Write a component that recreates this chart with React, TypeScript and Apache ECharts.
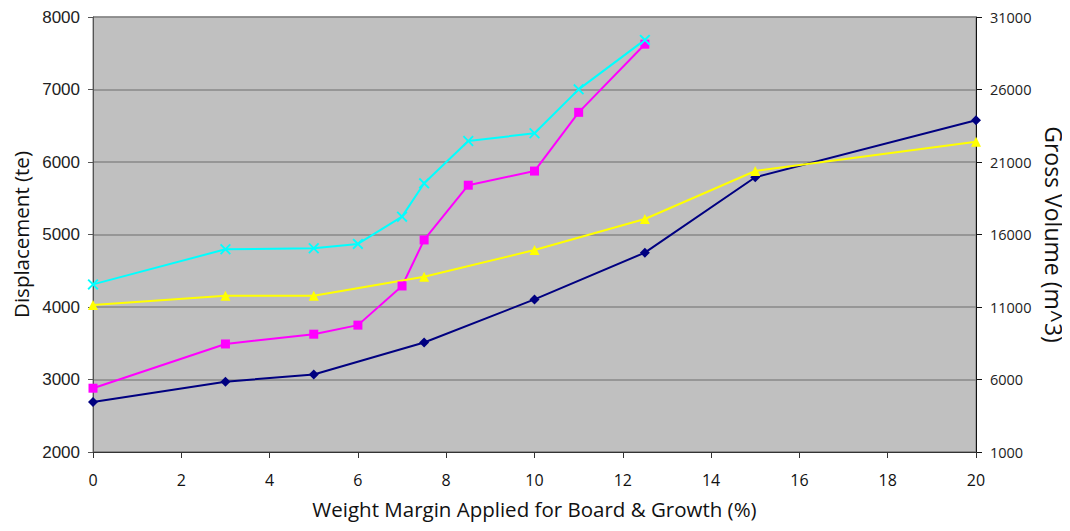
import React, { useEffect, useRef } from "react";
import * as echarts from "echarts";

// Weight margin (%) for each point
const marginNavy = [0, 3, 5, 7.5, 10, 12.5, 15, 20];
const displacementNavy = [2690, 2970, 3070, 3510, 4105, 4750, 5790, 6575];

const marginMagenta = [0, 3, 5, 6, 7, 7.5, 8.5, 10, 11, 12.5];
const displacementMagenta = [2880, 3490, 3625, 3750, 4290, 4925, 5680, 5875, 6685, 7625];

const marginYellow = [0, 3, 5, 7.5, 10, 12.5, 15, 20];
const volumeYellow = [11140, 11780, 11780, 13090, 14930, 17070, 20380, 22400];

const marginCyan = [0, 3, 5, 6, 7, 7.5, 8.5, 10, 11, 12.5];
const volumeCyan = [12560, 14980, 15050, 15350, 17230, 19530, 22450, 22980, 26010, 29420];

const rightTicks = [1000, 6000, 11000, 16000, 21000, 26000, 31000];

const xName = "Weight Margin Applied for Board & Growth (%)";
const leftName = "Displacement (te)";
const rightName = "Gross Volume (m^3)";

const crossSymbol =
  "path://M0,1.2 L1.2,0 L5,3.8 L8.8,0 L10,1.2 L6.2,5 L10,8.8 L8.8,10 L5,6.2 L1.2,10 L0,8.8 L3.8,5 Z";

const zip = (xs: number[], ys: number[]) => xs.map((x, i) => [x, ys[i]]);
const plain = (v: number) => String(v);

export default function App() {
  const ref = useRef<HTMLDivElement>(null);
  useEffect(() => {
    if (!ref.current) return;
    const chart = echarts.init(ref.current, undefined, { renderer: "svg" });
    const font = "'Open Sans', sans-serif";
    chart.setOption({
      animation: false,
      backgroundColor: "#ffffff",
      grid: {
        left: 93,
        right: 94,
        top: 17,
        bottom: 79,
        outerBoundsMode: "none",
        containLabel: false,
        show: true,
        backgroundColor: "#c0c0c0",
        borderColor: "#7a7a7a",
        borderWidth: 1,
      },
      xAxis: {
        type: "value",
        min: 0,
        max: 20,
        interval: 2,
        name: xName,
        nameLocation: "middle",
        nameGap: 46,
        nameTextStyle: { fontFamily: font, fontSize: 20.5, color: "#111" },
        axisLine: { show: true, lineStyle: { color: "#333", width: 1 } },
        axisTick: { show: true, inside: false, length: 6, lineStyle: { color: "#333" } },
        axisLabel: { fontFamily: font, fontSize: 16, color: "#111", margin: 20, formatter: plain },
        splitLine: { show: false },
      },
      yAxis: [
        {
          type: "value",
          min: 2000,
          max: 8000,
          interval: 1000,
          position: "left",
          name: leftName,
          nameLocation: "middle",
          nameRotate: 90,
          nameGap: 62,
          nameTextStyle: { fontFamily: font, fontSize: 20.5, color: "#111" },
          axisLine: { show: true, lineStyle: { color: "#555", width: 1 } },
          axisTick: { show: true, length: 5, lineStyle: { color: "#555" } },
          axisLabel: {
            fontFamily: "'Liberation Sans', Arial, sans-serif",
            fontSize: 17,
            color: "#222",
            margin: 13,
            formatter: plain,
          },
          splitLine: { show: true, lineStyle: { color: "#888", width: 1.5 } },
        },
        {
          type: "value",
          min: 1000,
          max: 31000,
          position: "right",
          name: rightName,
          nameLocation: "middle",
          nameRotate: -90,
          nameGap: 63,
          nameTextStyle: { fontFamily: font, fontSize: 23, color: "#111" },
          axisLine: { show: true, lineStyle: { color: "#111", width: 1 } },
          axisTick: { show: true, length: 6, lineStyle: { color: "#111" }, customValues: rightTicks },
          axisLabel: {
            fontFamily: font,
            fontSize: 14.5,
            color: "#222",
            margin: 14,
            customValues: rightTicks,
            formatter: plain,
          },
          splitLine: { show: false },
        },
      ],
      series: [
        {
          name: "Displacement (navy)",
          type: "line",
          yAxisIndex: 0,
          data: zip(marginNavy, displacementNavy),
          symbol: "diamond",
          symbolSize: 10,
          lineStyle: { color: "#000080", width: 2 },
          itemStyle: { color: "#000080" },
        },
        {
          name: "Displacement (magenta)",
          type: "line",
          yAxisIndex: 0,
          data: zip(marginMagenta, displacementMagenta),
          symbol: "rect",
          symbolSize: 9,
          lineStyle: { color: "#ff00ff", width: 2 },
          itemStyle: { color: "#ff00ff" },
        },
        {
          name: "Gross Volume (yellow)",
          type: "line",
          yAxisIndex: 1,
          data: zip(marginYellow, volumeYellow),
          symbol: "triangle",
          symbolSize: 10,
          lineStyle: { color: "#ffff00", width: 2 },
          itemStyle: { color: "#ffff00" },
        },
        {
          name: "Gross Volume (cyan)",
          type: "line",
          yAxisIndex: 1,
          data: zip(marginCyan, volumeCyan),
          symbol: crossSymbol,
          symbolSize: 11,
          lineStyle: { color: "#00ffff", width: 2 },
          itemStyle: { color: "#00ffff" },
        },
      ],
    });
    return () => chart.dispose();
  }, []);
  return <div ref={ref} style={{ width: 1070, height: 531, margin: -8 }} />;
}
